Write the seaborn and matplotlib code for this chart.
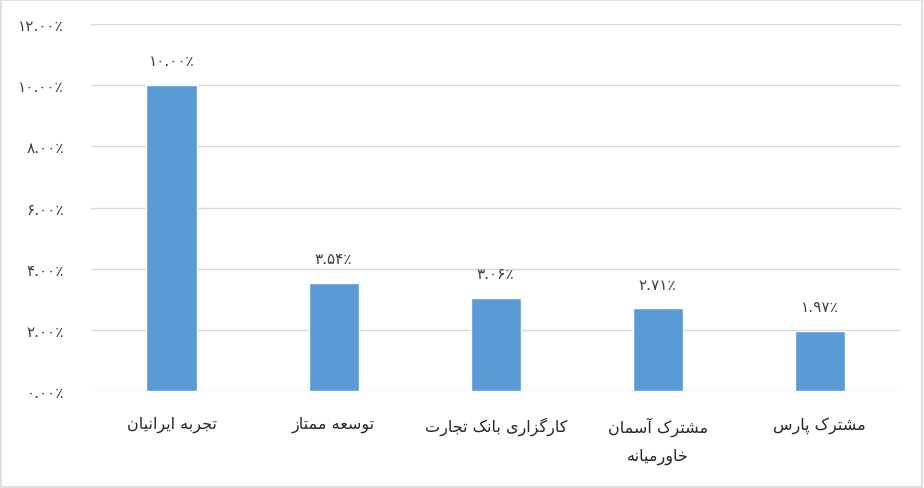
import matplotlib
matplotlib.use("Agg")
import matplotlib.pyplot as plt
import matplotlib.patches as mpatches
from matplotlib.ticker import FuncFormatter, MultipleLocator
import seaborn as sns
import pandas as pd

# values (percent)
companies = ["تجربه ایرانیان", "توسعه ممتاز", "کارگزاری بانک تجارت",
             "مشترک آسمان\nخاورمیانه", "مشترک پارس"]
shares = [10.00, 3.54, 3.06, 2.71, 1.97]

BAR_COLOR = "#5B9BD5"
GRID_COLOR = "#D9D9D9"
TEXT_COLOR = "#404040"

# isolated, final, initial, medial presentation forms
FORMS = {
    "ا": ("\uFE8D", "\uFE8E", None, None),
    "آ": ("\uFE81", "\uFE82", None, None),
    "ر": ("\uFEAD", "\uFEAE", None, None),
    "ز": ("\uFEAF", "\uFEB0", None, None),
    "و": ("\uFEED", "\uFEEE", None, None),
    "ب": ("\uFE8F", "\uFE90", "\uFE91", "\uFE92"),
    "پ": ("\uFB56", "\uFB57", "\uFB58", "\uFB59"),
    "ت": ("\uFE95", "\uFE96", "\uFE97", "\uFE98"),
    "ج": ("\uFE9D", "\uFE9E", "\uFE9F", "\uFEA0"),
    "خ": ("\uFEA5", "\uFEA6", "\uFEA7", "\uFEA8"),
    "س": ("\uFEB1", "\uFEB2", "\uFEB3", "\uFEB4"),
    "ش": ("\uFEB5", "\uFEB6", "\uFEB7", "\uFEB8"),
    "ع": ("\uFEC9", "\uFECA", "\uFECB", "\uFECC"),
    "ک": ("\uFB8E", "\uFB8F", "\uFB90", "\uFB91"),
    "گ": ("\uFB92", "\uFB93", "\uFB94", "\uFB95"),
    "م": ("\uFEE1", "\uFEE2", "\uFEE3", "\uFEE4"),
    "ن": ("\uFEE5", "\uFEE6", "\uFEE7", "\uFEE8"),
    "ه": ("\uFEE9", "\uFEEA", "\uFEEB", "\uFEEC"),
    "ی": ("\uFBFC", "\uFBFD", "\uFBFE", "\uFBFF"),
}


def shape_line(s):
    # matplotlib has no arabic shaping, so pick the joined forms by hand
    out = []
    for i, ch in enumerate(s):
        f = FORMS.get(ch)
        if f is None:
            out.append(ch)
            continue
        prev = s[i - 1] if i > 0 else ""
        nxt = s[i + 1] if i + 1 < len(s) else ""
        join_prev = prev in FORMS and FORMS[prev][2] is not None
        join_next = f[2] is not None and nxt in FORMS
        if join_prev and join_next:
            out.append(f[3])
        elif join_prev:
            out.append(f[1])
        elif join_next:
            out.append(f[2])
        else:
            out.append(f[0])
    return "".join(out)[::-1]


def rtl(s):
    return "\n".join(shape_line(line) for line in s.split("\n"))


PERSIAN_DIGITS = str.maketrans("0123456789", "۰۱۲۳۴۵۶۷۸۹")


def fa_pct(v):
    return f"{v:.2f}".translate(PERSIAN_DIGITS) + "٪"


df = pd.DataFrame({"company": [rtl(c) for c in companies], "share": shares})

sns.set_style("white")
plt.rcParams["font.family"] = ["DejaVu Sans"]

fig, ax = plt.subplots(figsize=(9.24, 4.89), dpi=100)
fig.subplots_adjust(left=0.098, right=0.975, top=0.949, bottom=0.198)

sns.barplot(data=df, x="company", y="share", color=BAR_COLOR, width=0.31,
            saturation=1, ax=ax, zorder=3)

ax.set_ylim(0, 12)
ax.yaxis.set_major_locator(MultipleLocator(2))
ax.yaxis.set_major_formatter(FuncFormatter(lambda v, p: fa_pct(v)))
ax.yaxis.grid(True, color=GRID_COLOR, linewidth=1, zorder=0)
ax.set_axisbelow(True)
ax.set_xlabel("")
ax.set_ylabel("")
sns.despine(ax=ax, left=True, bottom=True)
ax.tick_params(axis="y", length=0, pad=19, labelsize=11, labelcolor=TEXT_COLOR)
ax.tick_params(axis="x", length=0, pad=18, labelsize=11.5, labelcolor="#262626")
for lbl in ax.get_xticklabels():
    lbl.set_linespacing(2.0)
    lbl.set_verticalalignment("top")

for i, v in enumerate(shares):
    ax.annotate(fa_pct(v), (i, v), xytext=(0, 12), textcoords="offset points",
                ha="center", va="bottom", fontsize=11, color=TEXT_COLOR)

fig.patches.append(mpatches.Rectangle((0.001, 0.002), 0.997, 0.995,
                                      transform=fig.transFigure, fill=False,
                                      edgecolor=GRID_COLOR, linewidth=1.2))

fig.savefig("out.png", dpi=100)
